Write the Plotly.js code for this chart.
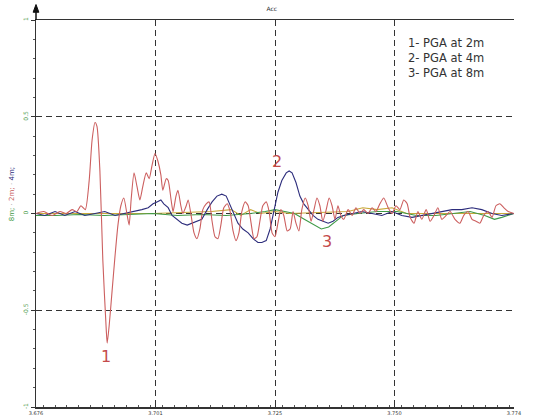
<!DOCTYPE html>
<html>
<head>
<meta charset="utf-8">
<script src="https://cdn.plot.ly/plotly-3.0.1.min.js"></script>
<style>html,body{margin:0;padding:0;background:#fff;}#chart{width:549px;height:416px;}</style>
</head>
<body>
<div id="chart"></div>
<script>
// ---- Data (time in s, acceleration) ----
const redT = [3.6760,3.6776,3.6793,3.6809,3.6822,3.6834,3.6844,3.6852,3.6861,3.6869,3.6875,3.6881,3.6885,3.6891,3.6897,3.6904,3.6906,3.6910,3.6916,3.6922,3.6928,3.6934,3.6940,3.6947,3.6951,3.6955,3.6961,3.6967,3.6973,3.6979,3.6986,3.6992,3.6998,3.7004,3.7010,3.7016,3.7020,3.7027,3.7031,3.7037,3.7041,3.7047,3.7051,3.7057,3.7061,3.7068,3.7072,3.7078,3.7084,3.7090,3.7096,3.7102,3.7109,3.7115,3.7121,3.7127,3.7133,3.7139,3.7145,3.7152,3.7158,3.7164,3.7170,3.7176,3.7182,3.7189,3.7195,3.7201,3.7207,3.7213,3.7219,3.7225,3.7232,3.7238,3.7244,3.7250,3.7256,3.7262,3.7268,3.7275,3.7281,3.7287,3.7293,3.7299,3.7305,3.7312,3.7318,3.7324,3.7330,3.7336,3.7342,3.7348,3.7355,3.7361,3.7367,3.7373,3.7379,3.7385,3.7391,3.7400,3.7408,3.7416,3.7424,3.7432,3.7441,3.7449,3.7457,3.7465,3.7473,3.7482,3.7490,3.7498,3.7506,3.7514,3.7521,3.7527,3.7535,3.7543,3.7551,3.7560,3.7568,3.7576,3.7584,3.7592,3.7601,3.7609,3.7619,3.7629,3.7637,3.7646,3.7654,3.7662,3.7670,3.7678,3.7687,3.7695,3.7703,3.7711,3.7719,3.7728,3.7740];
const redA = [0.00,0.01,-0.01,0.01,0.00,0.02,0.01,0.04,0.02,0.17,0.38,0.47,0.45,0.22,-0.24,-0.60,-0.67,-0.58,-0.40,-0.22,-0.06,0.04,0.08,-0.01,-0.06,0.07,0.21,0.14,0.07,0.14,0.21,0.18,0.25,0.31,0.27,0.20,0.12,0.18,0.17,0.07,0.01,0.09,0.12,0.04,0.00,0.04,0.07,-0.01,-0.10,-0.13,-0.08,0.02,0.05,0.06,-0.04,-0.12,-0.13,-0.06,0.03,0.05,0.01,-0.09,-0.14,-0.10,0.01,0.06,0.04,-0.05,-0.13,-0.12,-0.04,0.04,0.06,0.01,-0.10,-0.12,-0.05,0.02,-0.01,-0.09,-0.08,0.01,-0.05,-0.09,0.02,0.08,0.04,-0.04,0.02,0.08,0.04,-0.04,0.02,0.08,0.04,-0.03,0.04,-0.01,-0.03,0.02,-0.01,0.03,0.00,0.02,0.00,0.03,0.01,0.05,0.08,0.03,0.00,0.04,0.02,0.07,0.05,-0.02,-0.05,0.01,-0.03,0.02,-0.04,-0.01,0.03,-0.03,-0.01,0.01,-0.03,-0.05,-0.01,0.01,-0.03,-0.04,-0.05,-0.01,0.01,-0.02,0.04,0.05,0.03,0.01,0.00];

const blueT = [3.6760,3.6778,3.6799,3.6819,3.6840,3.6860,3.6881,3.6901,3.6922,3.6942,3.6963,3.6977,3.6990,3.7000,3.7008,3.7016,3.7022,3.7031,3.7039,3.7049,3.7059,3.7070,3.7080,3.7090,3.7100,3.7111,3.7121,3.7131,3.7141,3.7150,3.7158,3.7166,3.7174,3.7184,3.7195,3.7205,3.7215,3.7223,3.7232,3.7240,3.7248,3.7256,3.7264,3.7273,3.7279,3.7285,3.7293,3.7301,3.7309,3.7318,3.7328,3.7338,3.7348,3.7359,3.7369,3.7379,3.7391,3.7408,3.7428,3.7449,3.7469,3.7490,3.7510,3.7531,3.7551,3.7572,3.7592,3.7613,3.7633,3.7654,3.7674,3.7695,3.7715,3.7740];
const blueA = [0.00,-0.01,0.01,-0.01,0.01,-0.01,0.00,0.01,-0.01,0.00,0.01,0.02,0.03,0.05,0.06,0.07,0.05,0.03,-0.01,-0.03,-0.05,-0.06,-0.05,-0.04,-0.03,0.02,0.06,0.09,0.10,0.09,0.04,-0.01,-0.05,-0.08,-0.10,-0.13,-0.15,-0.15,-0.14,-0.08,0.02,0.11,0.17,0.21,0.22,0.21,0.16,0.09,0.05,0.02,-0.01,-0.03,-0.04,-0.05,-0.04,-0.02,-0.01,0.00,0.01,0.00,-0.01,0.01,-0.01,-0.02,-0.01,0.00,0.01,0.02,0.02,0.03,0.02,0.00,-0.01,0.00];

const greenT = [3.6760,3.6800,3.6850,3.6900,3.6950,3.7000,3.7050,3.7100,3.7150,3.7200,3.7230,3.7250,3.7270,3.7290,3.7310,3.7330,3.7345,3.7360,3.7375,3.7390,3.7420,3.7460,3.7500,3.7540,3.7580,3.7620,3.7650,3.7680,3.7700,3.7715,3.7740];
const greenA = [-0.01,-0.01,-0.005,-0.01,-0.005,0.00,-0.01,-0.005,-0.01,0.00,0.01,0.02,0.01,0.00,-0.03,-0.06,-0.08,-0.07,-0.04,-0.01,0.00,0.01,0.01,-0.01,-0.01,0.00,0.01,-0.01,-0.03,-0.02,0.00];

const yellowT = [3.6760,3.7000,3.7120,3.7160,3.7180,3.7200,3.7220,3.7250,3.7280,3.7400,3.7430,3.7460,3.7490,3.7520,3.7740];
const yellowA = [0.00,0.00,0.01,0.02,-0.01,0.02,0.00,0.01,0.00,0.01,0.03,0.02,0.03,0.00,0.00];

const seriesNames = ['PGA at 2m','PGA at 4m','PGA at 8m','other'];
const xTickVals = [3.676,3.7005,3.725,3.7495,3.774];
const xTickText = ['3.676','3.701','3.725','3.750','3.774'];
const yTickVals = [-1,-0.5,0,0.5,1];
const yTickText = ['-1','-0.5','0','0.5','1'];
const legendLines = ['1- PGA at 2m','2- PGA at 4m','3- PGA at 8m'];
const peakLabels = ['1','2','3'];
const peakX = [3.6903,3.7254,3.7357];
const peakY = [-0.74,0.27,-0.145];

const lineW = 1.1;
const traces = [
  {x:yellowT,y:yellowA,name:seriesNames[3],mode:'lines',line:{color:'#c9a93a',width:lineW}},
  {x:greenT,y:greenA,name:seriesNames[2],mode:'lines',line:{color:'#3f9a47',width:lineW}},
  {x:blueT,y:blueA,name:seriesNames[1],mode:'lines',line:{color:'#2d2d7c',width:lineW}},
  {x:redT,y:redA,name:seriesNames[0],mode:'lines',line:{color:'#cc5f5f',width:lineW,shape:'spline',smoothing:0.6}}
];

const annotations = [
  {xref:'paper',yref:'paper',x:0.858,y:0.902,xanchor:'center',yanchor:'middle',showarrow:false,align:'left',
   text:legendLines.join('<br>'),font:{family:'DejaVu Sans, sans-serif',size:11.5,color:'#333'}},
  {xref:'paper',yref:'paper',x:-0.05,y:0.55,xanchor:'center',yanchor:'middle',textangle:-90,showarrow:false,
   text:'<span style="color:#3f9a47">8m;</span> <span style="color:#999">·</span> <span style="color:#c65a5a">2m;</span> <span style="color:#999">·</span> <span style="color:#2d2d7c">4m;</span>',
   font:{family:'DejaVu Sans, sans-serif',size:7}}
];
for (let i=0;i<peakLabels.length;i++){
  annotations.push({x:peakX[i],y:peakY[i],xref:'x',yref:'y',showarrow:false,text:peakLabels[i],
    font:{family:'DejaVu Sans, sans-serif',size:16,color:'#c44b4b'}});
}

const layout = {
  width:549,height:416,
  margin:{l:36,r:35,t:20,b:9,pad:0},
  paper_bgcolor:'#fff',plot_bgcolor:'#fff',
  showlegend:false,
  title:{text:'Acc',x:0.495,xref:'container',y:0.978,yref:'container',yanchor:'middle',
    font:{family:'DejaVu Sans, sans-serif',size:6,color:'#333'}},
  xaxis:{range:[3.676,3.774],tickvals:xTickVals,ticktext:xTickText,
    showgrid:true,gridcolor:'#333',griddash:'6px,4px',gridwidth:1,zeroline:false,
    showline:true,linecolor:'#333',linewidth:1.5,mirror:true,
    ticks:'inside',ticklen:3,tickcolor:'#333',
    minor:{dtick:0.00245,ticks:'inside',ticklen:2,tickcolor:'#555',showgrid:false},
    tickfont:{family:'DejaVu Sans, sans-serif',size:5,color:'#333'}},
  yaxis:{range:[-1,1],tickvals:yTickVals,ticktext:yTickText,
    showgrid:true,gridcolor:'#333',griddash:'6px,4px',gridwidth:1,zeroline:false,
    showline:true,linecolor:'#333',linewidth:1.5,mirror:false,
    ticks:'outside',ticklen:4,tickcolor:'#333',tickangle:-90,
    minor:{dtick:0.1,ticks:'outside',ticklen:2,tickcolor:'#555',showgrid:false},
    tickfont:{family:'DejaVu Sans, sans-serif',size:6,color:'#4a9a4a'}},
  annotations:annotations,
  shapes:[
    {type:'line',xref:'paper',yref:'paper',x0:0,x1:0,y0:1,y1:1.035,line:{color:'#111',width:1.5}},
    {type:'path',xref:'paper',yref:'paper',path:'M -0.006 1.02 L 0 1.04 L 0.006 1.02 Z',fillcolor:'#111',line:{color:'#111',width:1}}
  ]
};

Plotly.newPlot('chart',traces,layout,{staticPlot:true,displayModeBar:false});
</script>
</body>
</html>
